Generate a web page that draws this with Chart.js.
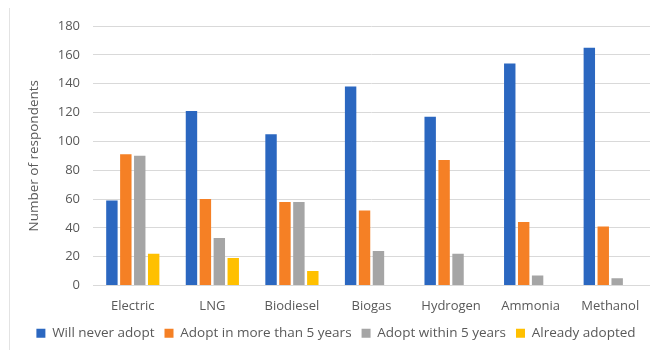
<!DOCTYPE html>
<html>
<head>
<meta charset="utf-8">
<script src="https://cdn.jsdelivr.net/npm/chart.js@4"></script>
<style>
  html, body { margin: 0; padding: 0; background: #fff; overflow: hidden; }
  #wrap { position: relative; width: 650px; height: 350px; }
  #frame { position: absolute; left: 9px; top: 8px; bottom: 0; border-left: 1px solid #e3e3e3; }
</style>
</head>
<body>
<div id="wrap">
  <div id="frame"></div>
  <canvas id="c" width="650" height="350"></canvas>
</div>
<script>
/* Kategorien und Werte */
const fuels = ['Electric', 'LNG', 'Biodiesel', 'Biogas', 'Hydrogen', 'Ammonia', 'Methanol'];
const neverAdopt   = [59, 121, 105, 138, 117, 154, 165];
const moreThan5    = [91, 60, 58, 52, 87, 44, 41];
const within5      = [90, 33, 58, 24, 22, 7, 5];
const alreadyDone  = [22, 19, 10, 0, 0, 0, 0];
const yTicks = [0, 20, 40, 60, 80, 100, 120, 140, 160, 180];

const font = { family: '"Open Sans", "Noto Sans", sans-serif', size: 13 };
const grey = '#595959';

function bars(label, data, color) {
  return { label, data, backgroundColor: color, borderWidth: 0,
           categoryPercentage: 0.7, barPercentage: 0.82 };
}

new Chart(document.getElementById('c'), {
  type: 'bar',
  data: {
    labels: fuels,
    datasets: [
      bars('Will never adopt', neverAdopt, '#2B67C0'),
      bars('Adopt in more than 5 years', moreThan5, '#F58025'),
      bars('Adopt within 5 years', within5, '#A5A5A5'),
      bars('Already adopted', alreadyDone, '#FFC000'),
    ],
  },
  options: {
    responsive: false, animation: false,
    layout: { padding: { left: 22, right: 0, top: 26, bottom: 0 } },
    plugins: {
      legend: {
        position: 'bottom',
        labels: { color: grey, font: { ...font, size: 13.5 }, boxWidth: 9, boxHeight: 9, padding: 10 },
      },
      tooltip: { enabled: false },
    },
    scales: {
      x: {
        grid: { display: false },
        border: { color: '#d9d9d9' },
        ticks: { color: grey, font, padding: 5 },
        afterFit: s => { s.height = 31; },
      },
      y: {
        min: 0, max: 180,
        afterBuildTicks: s => { s.ticks = yTicks.map(v => ({ value: v })); },
        grid: { color: '#d9d9d9', drawTicks: false },
        border: { display: false },
        ticks: { color: grey, font, padding: 13 },
        title: { display: true, text: 'Number of respondents', color: grey, font: { ...font, size: 13.5 } },
        afterFit: s => { s.width = 71; },
      },
    },
  },
});
</script>
</body>
</html>
